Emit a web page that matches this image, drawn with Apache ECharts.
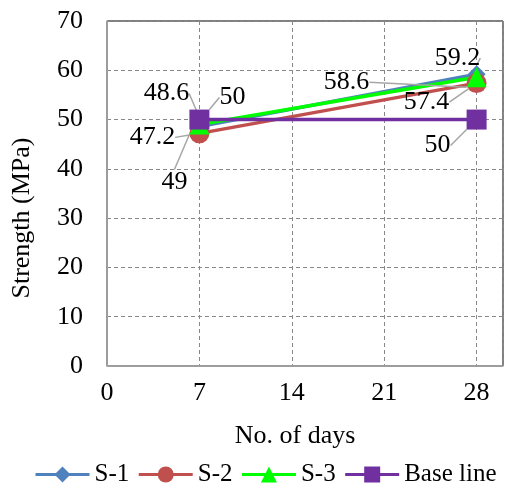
<!DOCTYPE html>
<html>
<head>
<meta charset="utf-8">
<script src="https://cdn.jsdelivr.net/npm/echarts@6/dist/echarts.min.js"></script>
<style>
  html, body { margin: 0; padding: 0; background: #fff; }
  #chart { width: 505px; height: 489px; }
</style>
</head>
<body>
<div id="chart"></div>
<script>
// data
const days = [7, 28]
const s1 = [48.6, 59.2]
const s2 = [47.2, 57.4]
const s3 = [49, 58.6]
const baseLine = [50, 50]
const seriesNames = ['S-1', 'S-2', 'S-3', 'Base line']
const xTicks = [0, 7, 14, 21, 28]

// label offsets (px) from each point, [seriesIndex][dataIndex]
const labelOffsets = [
  [[-33, -33], [-19, -16]],
  [[-47, 4], [-50, 19]],
  [[-25, 58], [-130, 5]],
  [[33, -22], [-39, 26]]
]

const font = '"Liberation Serif", "Times New Roman", serif'
const colors = ['#4F81BD', '#C0504D', '#00FF00', '#7030A0']
const symbols = ['diamond', 'circle', 'triangle', 'rect']
const sizes = [18, 20, 20, 20]
const allData = [s1, s2, s3, baseLine]

const chart = echarts.init(document.getElementById('chart'))

const series = allData.map((vals, i) => ({
  name: seriesNames[i],
  type: 'line',
  data: days.map((d, j) => [d, vals[j]]),
  symbol: symbols[i],
  symbolSize: sizes[i],
  showAllSymbol: true,
  lineStyle: { color: colors[i], width: 3.5 },
  itemStyle: { color: colors[i] },
  label: {
    show: true,
    position: 'inside',
    color: '#000',
    fontFamily: font,
    fontSize: 26,
    formatter: p => String(p.value[1])
  },
  labelLine: { show: true, lineStyle: { color: '#a6a6a6', width: 1.5 } },
  labelLayout: p => {
    const o = labelOffsets[p.seriesIndex][p.dataIndex]
    return { dx: o[0], dy: o[1] }
  },
  emphasis: { disabled: true },
  animation: false
}))

chart.setOption({
  animation: false,
  grid: {
    left: 107, right: 2, top: 21, bottom: 123,
    show: true, borderColor: '#000', borderWidth: 1
  },
  legend: {
    top: 462,
    left: 34,
    width: 471,
    padding: 0,
    itemWidth: 54,
    itemHeight: 20,
    itemGap: 8,
    lineStyle: { width: 3 },
    textStyle: { fontFamily: font, fontSize: 25, color: '#000' },
    data: seriesNames
  },
  xAxis: {
    type: 'value',
    min: 0,
    max: 30,
    interval: 7,
    axisLine: { show: true, onZero: false, lineStyle: { color: '#a6a6a6', width: 1.5 } },
    axisTick: { show: false },
    splitLine: { show: true, lineStyle: { color: '#888', type: [4, 3], width: 1 } },
    axisLabel: {
      margin: 14,
      fontFamily: font,
      fontSize: 26,
      color: '#000',
      showMaxLabel: false,
      formatter: v => (xTicks.includes(v) ? String(v) : '')
    }
  },
  yAxis: {
    type: 'value',
    min: 0,
    max: 70,
    interval: 10,
    axisLine: { show: true, lineStyle: { color: '#a6a6a6', width: 1.5 } },
    axisTick: { show: false },
    splitLine: { show: true, lineStyle: { color: '#888', type: [4, 3], width: 1 } },
    axisLabel: { margin: 24, fontFamily: font, fontSize: 26, color: '#000' }
  },
  graphic: [
    {
      type: 'text',
      x: 295, y: 436,
      style: {
        text: 'No. of days', fontFamily: font, fontSize: 26, fill: '#000',
        textAlign: 'center', textVerticalAlign: 'middle'
      }
    },
    {
      type: 'text',
      x: 22, y: 218,
      rotation: Math.PI / 2,
      style: {
        text: 'Strength (MPa)', fontFamily: font, fontSize: 26, fill: '#000',
        textAlign: 'center', textVerticalAlign: 'middle'
      }
    }
  ],
  series: series
})
</script>
</body>
</html>
